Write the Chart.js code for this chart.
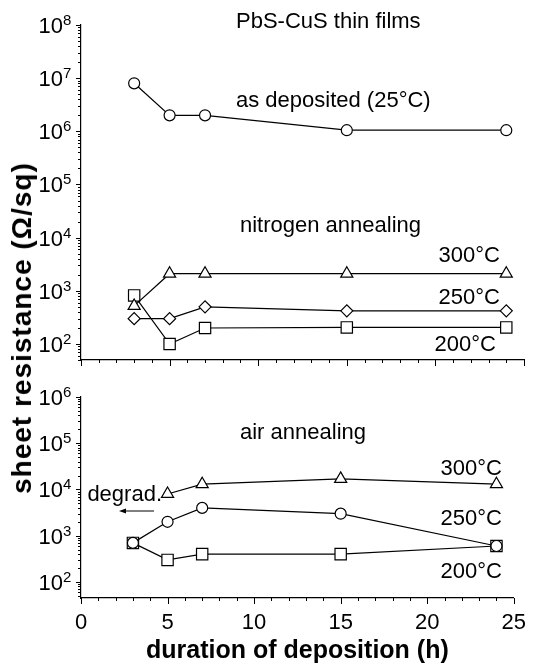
<!DOCTYPE html>
<html>
<head>
<meta charset="utf-8">
<script src="https://cdn.jsdelivr.net/npm/chart.js@4"></script>
<style>
  body { margin: 0; background: #fff; }
  #wrap { position: relative; width: 538px; height: 668px; }
  #top { position: absolute; left: 0; top: 0; }
  #bot { position: absolute; left: 0; top: 380px; }
  #ytitle {
    position: absolute; left: 22px; top: 328px;
    transform: translate(-50%, -50%) rotate(-90deg);
    font: bold 28px "Liberation Sans", Arial, sans-serif;
    letter-spacing: 1px;
    white-space: nowrap; color: #000;
  }
</style>
</head>
<body>
<div id="wrap">
  <canvas id="top" width="538" height="380"></canvas>
  <canvas id="bot" width="538" height="288"></canvas>
  <div id="ytitle">sheet resistance (Ω/sq)</div>
</div>
<script>
// duration of deposition (h)
var hours = [3, 5, 7, 15, 24];

// top panel: as deposited + nitrogen annealing (Ohm/sq)
var asDeposited = [8e6, 2e6, 2e6, 1.05e6, 1.05e6];
var nitrogen300 = [520, 2100, 2100, 2100, 2100];
var nitrogen250 = [300, 300, 500, 420, 420];
var nitrogen200 = [820, 100, 200, 205, 205];

// bottom panel: air annealing (Ohm/sq), 300C at 3 h degraded
var air300 = [null, 8000, 13000, 17000, 13000];
var air250 = [700, 2000, 4000, 3000, 600];
var air200 = [700, 300, 400, 400, 600];

var xTickLabels = [0, 5, 10, 15, 20, 25];

var FONT = '"Liberation Sans", Arial, sans-serif';

function points(vals) {
  return hours.map(function (h, i) { return {x: h, y: vals[i]}; })
              .filter(function (p) { return p.y != null; });
}

function series(vals, style, r) {
  return {
    data: points(vals),
    borderColor: '#000', borderWidth: 1.2,
    pointStyle: style, pointRadius: r, pointHoverRadius: r,
    pointBackgroundColor: '#fff', pointBorderColor: '#000', pointBorderWidth: 1.2
  };
}

// tick marks, 10^n labels and text notes
var decor = {
  id: 'decor',
  afterDraw: function (chart, args, o) {
    var ctx = chart.ctx, a = chart.chartArea;
    var xs = chart.scales.x, ys = chart.scales.y;
    ctx.save();
    ctx.strokeStyle = '#000';
    ctx.fillStyle = '#000';
    ctx.lineWidth = 1;
    ctx.beginPath();
    var e0 = Math.floor(Math.log10(ys.min)), e1 = Math.ceil(Math.log10(ys.max));
    for (var e = e0; e <= e1; e++) {
      for (var k = 1; k <= 9; k++) {
        var v = k * Math.pow(10, e);
        if (v < ys.min * 0.999 || v > ys.max * 1.001) continue;
        var py = Math.round(ys.getPixelForValue(v)) + 0.5;
        ctx.moveTo(a.left - (k === 1 ? 5 : 3), py);
        ctx.lineTo(a.left, py);
      }
    }
    for (var t = 0; t <= 25; t++) {
      var px = Math.round(xs.getPixelForValue(t)) + 0.5;
      ctx.moveTo(px, a.bottom);
      ctx.lineTo(px, a.bottom + (t % 5 === 0 ? 6 : 3));
    }
    ctx.stroke();

    for (var e = e0; e <= e1; e++) {
      var v = Math.pow(10, e);
      if (v < ys.min * 0.999 || v > ys.max * 1.001) continue;
      var py = ys.getPixelForValue(v);
      ctx.textBaseline = 'alphabetic';
      ctx.font = '22px ' + FONT;
      ctx.textAlign = 'right';
      ctx.fillText('10', a.left - 18, py + 8);
      ctx.font = '15px ' + FONT;
      ctx.textAlign = 'left';
      ctx.fillText(String(e), a.left - 18, py);
    }

    ctx.font = '22px ' + FONT;
    ctx.textBaseline = 'middle';
    o.notes.forEach(function (n) {
      ctx.textAlign = n.align;
      ctx.fillText(n.text, n.x, n.y);
    });
    if (o.arrow) {
      var ar = o.arrow;
      ctx.beginPath();
      ctx.moveTo(ar.x1, ar.y); ctx.lineTo(ar.x0 + 4, ar.y);
      ctx.stroke();
      ctx.beginPath();
      ctx.moveTo(ar.x0, ar.y); ctx.lineTo(ar.x0 + 7, ar.y - 2.5); ctx.lineTo(ar.x0 + 7, ar.y + 2.5);
      ctx.closePath();
      ctx.fill();
    }
    ctx.restore();
  }
};

function makeChart(id, datasets, yMin, yMax, showX, notes, arrow) {
  return new Chart(document.getElementById(id), {
    type: 'line',
    data: {datasets: datasets},
    options: {
      responsive: false,
      animation: false,
      layout: {padding: {left: 0, right: 14, top: showX ? 17 : 25, bottom: 0}},
      plugins: {
        legend: {display: false},
        tooltip: {enabled: false},
        decor: {notes: notes, arrow: arrow}
      },
      scales: {
        x: {
          type: 'linear', min: 0, max: 25,
          grid: {display: false, drawTicks: false},
          border: {color: '#000', width: 1.2},
          ticks: {
            display: showX, stepSize: 1, maxTicksLimit: 30, autoSkip: false, maxRotation: 0,
            padding: 12, color: '#000', font: {family: FONT, size: 22},
            callback: function (v) { return xTickLabels.indexOf(v) >= 0 ? String(v) : ''; }
          },
          title: {
            display: showX, text: 'duration of deposition (h)', color: '#000',
            font: {family: FONT, size: 25, weight: 'bold'}, padding: {top: 0, bottom: 2}
          },
          afterFit: function (s) { s.height = showX ? 70 : 20; }
        },
        y: {
          type: 'logarithmic', min: yMin, max: yMax,
          grid: {display: false, drawTicks: false},
          border: {color: '#000', width: 1.2},
          ticks: {display: false, autoSkip: false},
          afterFit: function (s) { s.width = 81; }
        }
      }
    },
    plugins: [decor]
  });
}

makeChart('top', [
  series(asDeposited, 'circle', 5.5),
  series(nitrogen300, 'triangle', 7),
  series(nitrogen250, 'rectRot', 6),
  series(nitrogen200, 'rect', 8)
], 50, 1e8, false, [
  {text: 'PbS-CuS thin films', x: 236, y: 22, align: 'left'},
  {text: 'as deposited (25°C)', x: 236, y: 101, align: 'left'},
  {text: 'nitrogen annealing', x: 240, y: 226, align: 'left'},
  {text: '300°C', x: 500, y: 256, align: 'right'},
  {text: '250°C', x: 500, y: 298, align: 'right'},
  {text: '200°C', x: 496, y: 345, align: 'right'}
], null);

makeChart('bot', [
  series(air300, 'triangle', 7),
  series(air250, 'circle', 5.5),
  series(air200, 'rect', 8)
], 45, 1e6, true, [
  {text: 'air annealing', x: 240, y: 53, align: 'left'},
  {text: '300°C', x: 502, y: 89, align: 'right'},
  {text: '250°C', x: 502, y: 139, align: 'right'},
  {text: '200°C', x: 502, y: 192, align: 'right'},
  {text: 'degrad.', x: 162, y: 115, align: 'right'}
], {x0: 119, x1: 154, y: 131});
</script>
</body>
</html>
